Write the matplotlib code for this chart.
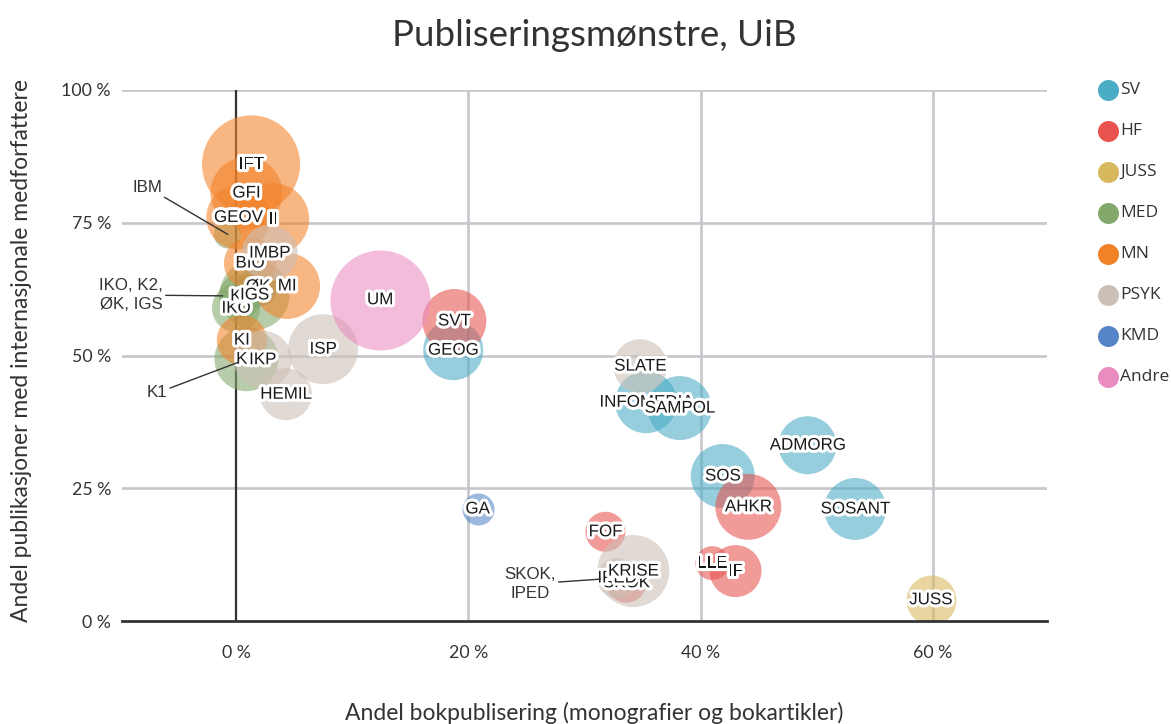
import matplotlib
matplotlib.use('Agg')
import matplotlib.pyplot as plt
import matplotlib.patheffects as pe
import numpy as np

# ---------------- data ----------------
fakulteter = ['SV', 'HF', 'JUSS', 'MED', 'MN', 'PSYK', 'KMD', 'Andre']
farger = ['#4bacc6', '#e8534f', '#d8b85c', '#83a86b', '#f28228', '#ccc0b6', '#5585c6', '#e98cc0']

sv_navn = ['ØK', 'GEOG', 'INFOMEDIA', 'SAMPOL', 'ADMORG', 'SOS', 'SOSANT']
sv_bok = [1.9, 18.7, 35.3, 38.2, 49.2, 41.9, 53.3]
sv_int = [63.0, 51.0, 41.2, 40.1, 33.1, 27.3, 21.1]
sv_pub = [100, 225, 240, 256, 210, 256, 240]

hf_navn = ['SVT', 'AHKR', 'FOF', 'LLE', 'IF', 'SKOK']
hf_bok = [18.8, 44.1, 31.8, 41.0, 43.0, 33.6]
hf_int = [56.5, 21.5, 16.8, 10.9, 9.4, 7.2]
hf_pub = [256, 272, 100, 72, 169, 100]

juss_navn = ['JUSS']
juss_bok = [59.8]
juss_int = [4.0]
juss_pub = [156]

med_navn = ['IBM', 'IKO', 'K2', 'IGS', 'K1']
med_bok = [-0.7, 0.0, 0.4, 1.6, 0.9]
med_int = [72.8, 58.9, 61.2, 61.4, 49.3]
med_pub = [49, 144, 121, 306, 256]

mn_navn = ['IFT', 'GFI', 'GEOV', 'II', 'BIO', 'MI', 'KI']
mn_bok = [1.3, 0.9, 0.2, 3.2, 1.2, 4.4, 0.5]
mn_int = [86.0, 80.6, 76.0, 75.7, 67.4, 63.1, 52.9]
mn_pub = [600, 324, 256, 324, 169, 272, 156]

psyk_navn = ['IMBP', 'IKP', 'HEMIL', 'ISP', 'SLATE', 'IPED', 'KRISE']
psyk_bok = [2.9, 2.3, 4.3, 7.5, 34.8, 32.8, 34.2]
psyk_int = [69.3, 49.2, 42.7, 51.2, 48.0, 8.1, 9.4]
psyk_pub = [196, 210, 169, 306, 182, 100, 324]

kmd_navn = ['GA']
kmd_bok = [20.8]
kmd_int = [21.1]
kmd_pub = [64]

andre_navn = ['UM']
andre_bok = [12.4]
andre_int = [60.5]
andre_pub = [625]

serier = [
    (sv_navn, sv_bok, sv_int, sv_pub),
    (hf_navn, hf_bok, hf_int, hf_pub),
    (juss_navn, juss_bok, juss_int, juss_pub),
    (med_navn, med_bok, med_int, med_pub),
    (mn_navn, mn_bok, mn_int, mn_pub),
    (psyk_navn, psyk_bok, psyk_int, psyk_pub),
    (kmd_navn, kmd_bok, kmd_int, kmd_pub),
    (andre_navn, andre_bok, andre_int, andre_pub),
]

x_ticks = [0, 20, 40, 60]
x_ticklabels = ['0 %', '20 %', '40 %', '60 %']
y_ticks = [0, 25, 50, 75, 100]
y_ticklabels = ['0 %', '25 %', '50 %', '75 %', '100 %']

skjulte_etiketter = ['IBM']

# annotations: (text, target point name)
annoteringer = [
    ('IBM', 'IBM'),
    ('IKO, K2,\nØK, IGS', 'K2'),
    ('K1', 'K1'),
    ('SKOK,\nIPED', 'IPED'),
]

# ---------------- figure ----------------
W, H = 1171, 724
fig = plt.figure(figsize=(W / 100, H / 100), dpi=100)

def px2fig(x, y):
    return x / W, 1 - y / H

L, R, T, B = 122, 1047, 90, 621
ax = fig.add_axes([L / W, 1 - B / H, (R - L) / W, (B - T) / H])
ax.set_xlim(-9.81, 69.81)
ax.set_ylim(0, 100)

for s in ax.spines.values():
    s.set_visible(False)

gridcol = '#c6c6cc'
for yv in y_ticks[1:]:
    ax.axhline(yv, color=gridcol, lw=1.9, zorder=0)
for xv in x_ticks[1:]:
    ax.axvline(xv, color=gridcol, lw=1.9, zorder=0)
ax.axvline(0, color='#333333', lw=1.6, zorder=0.5)
ax.axhline(0, color='#333333', lw=2.0, zorder=20, clip_on=False)

ax.set_xticks(x_ticks)
ax.set_xticklabels(x_ticklabels)
ax.set_yticks(y_ticks)
ax.set_yticklabels(y_ticklabels)
ax.tick_params(length=0, labelsize=12.8, colors='#333333')
ax.tick_params(axis='x', pad=17)
ax.tick_params(axis='y', pad=8)
for lab in ax.get_xticklabels() + ax.get_yticklabels():
    lab.set_fontfamily('Lato')

px_per_pt = 100 / 72
posisjon = {}
for (navn, bx, iy, pub), col in zip(serier, farger):
    diam_px = 4 * np.sqrt(np.array(pub, dtype=float))
    s = (diam_px / px_per_pt) ** 2
    ax.scatter(bx, iy, s=s, color=col, alpha=0.58, linewidths=0, zorder=2)
    for n, xx, yy in zip(navn, bx, iy):
        posisjon[n] = (xx, yy)

outline = [pe.withStroke(linewidth=4.5, foreground='white')]
for (navn, bx, iy, pub) in serier:
    for n, xx, yy in zip(navn, bx, iy):
        if n in skjulte_etiketter:
            continue
        ax.text(xx, yy, n, ha='center', va='center', fontsize=12.2,
                family='Liberation Sans', color='#1a1a1a', zorder=30,
                path_effects=outline)

# annotation text positions (pixels) and how far the leader stops short of the point
ann_txt_px = {'IBM': (147, 187), 'IKO, K2,\nØK, IGS': (131, 295), 'K1': (157, 393), 'SKOK,\nIPED': (530, 584)}
ann_shrink = {'IBM': 0, 'IKO, K2,\nØK, IGS': 13, 'K1': 7, 'SKOK,\nIPED': 12}

def px2data(x, y):
    return (x - 236) / 11.617, (621 - y) / 5.31

for txt, target in annoteringer:
    tx, ty = px2data(*ann_txt_px[txt])
    ax.annotate(txt, xy=posisjon[target], xytext=(tx, ty), ha='center', va='center',
                fontsize=12.2, family='Liberation Sans', color='#333333',
                linespacing=1.3, zorder=31, annotation_clip=False,
                arrowprops=dict(arrowstyle='-', color='#333333', lw=1.0,
                                shrinkA=0, shrinkB=ann_shrink[txt]))

# titles
fig.text(*px2fig(594, 36), 'Publiseringsmønstre, UiB', ha='center', va='center',
         fontsize=26.5, family='Lato', color='#333333')
fig.text(*px2fig(594, 713), 'Andel bokpublisering (monografier og bokartikler)', ha='center',
         va='center', fontsize=16.5, family='Lato', color='#333333')
fig.text(*px2fig(22, 351), 'Andel publikasjoner med internasjonale medforfattere', ha='center',
         va='center', rotation=90, fontsize=16.5, family='Lato', color='#333333')

# legend
lax = fig.add_axes([0, 0, 1, 1])
lax.set_xlim(0, W)
lax.set_ylim(H, 0)
lax.axis('off')
for i, (fak, col) in enumerate(zip(fakulteter, farger)):
    yy = 90 + i * 41
    lax.scatter([1108], [yy], s=(21 / px_per_pt) ** 2, color=col, linewidths=0)
    lax.text(1120, yy, fak, ha='left', va='center', fontsize=12.5, family='Open Sans', color='#333333')

fig.savefig('out.png', dpi=100)
